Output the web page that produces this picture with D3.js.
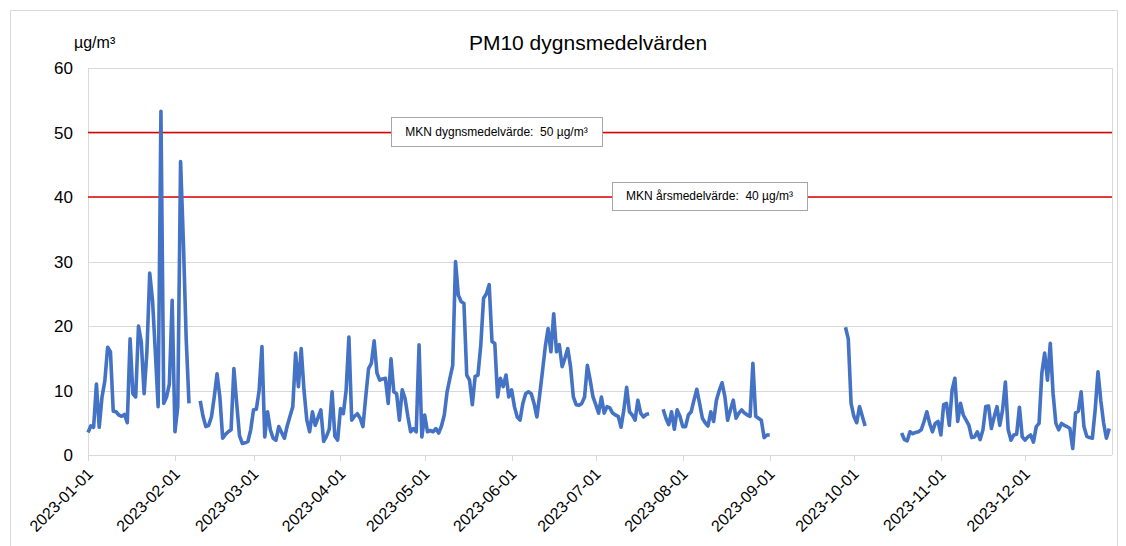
<!DOCTYPE html>
<meta charset="utf-8">
<style>
body { margin: 0; background: #fff; }
text { font-family: Arial, 'Liberation Sans', sans-serif; fill: #000; }
.grid line { stroke: #d9d9d9; stroke-width: 1px; }
.note text { white-space: pre; }
</style>
<body>
<svg width="1126" height="546"></svg>
<script src="https://d3js.org/d3.v7.min.js"></script>
<script>

// daily PM10 values (µg/m³), one array per month, null = missing day
var jan = [3.5, 4.5, 4.3, 11.0, 4.3, 9.0, 11.5, 16.7, 16.0, 6.8, 6.7, 6.2, 6.0, 6.3, 5.0, 18.0, 9.5, 9.0, 20.0, 17.5, 9.5, 16.0, 28.2, 24.0, 16.0, 7.5, 53.3, 8.0, 9.0, 11.0, 24.0];
var feb = [3.6, 7.5, 45.5, 33.0, 18.0, 8.0, null, null, null, 8.4, 6.0, 4.4, 4.6, 5.9, 9.0, 12.6, 9.0, 2.6, 3.2, 3.6, 3.9, 13.4, 8.0, 3.0, 1.8, 1.9, 2.1, 3.9];
var mar = [7.0, 7.1, 10.0, 16.8, 2.8, 6.7, 3.9, 2.6, 2.3, 4.4, 3.5, 2.6, 4.5, 6.0, 7.5, 15.8, 10.6, 16.5, 10.0, 5.4, 3.6, 6.7, 4.6, 5.8, 7.0, 2.1, 2.9, 4.0, 9.8, 2.9, 2.3];
var apr = [7.2, 6.4, 10.0, 18.3, 5.4, 6.0, 6.4, 5.7, 4.4, 9.0, 13.4, 14.2, 17.7, 12.7, 11.6, 11.8, 11.9, 8.0, 14.9, 9.8, 9.5, 5.4, 10.1, 8.8, 6.0, 3.6, 4.1, 3.6, 17.1, 2.8];
var may = [6.2, 3.6, 3.8, 3.6, 4.1, 3.4, 4.5, 6.2, 9.8, 11.9, 13.9, 30.0, 24.8, 23.8, 23.5, 12.4, 11.6, 7.8, 12.2, 12.4, 17.0, 24.3, 25.0, 26.4, 17.6, 17.3, 9.0, 11.9, 10.6, 12.4, 9.0];
var jun = [10.1, 7.5, 5.9, 5.4, 8.0, 9.5, 9.8, 9.5, 8.0, 5.9, 9.3, 13.0, 16.8, 19.6, 16.0, 21.9, 16.0, 17.1, 13.7, 15.0, 16.5, 13.7, 9.0, 7.8, 7.7, 8.0, 9.0, 13.9, 11.6, 9.0];
var jul = [7.8, 6.5, 9.0, 6.5, 7.5, 7.3, 6.5, 6.2, 6.0, 4.3, 7.0, 10.5, 6.7, 6.2, 5.4, 8.5, 6.5, 5.9, 6.3, 6.4, null, null, null, null, 7.1, 5.7, 4.7, 6.7, 4.0, 7.0, 6.0];
var aug = [4.4, 4.4, 6.2, 6.7, 8.5, 10.2, 8.0, 5.7, 5.0, 4.5, 6.7, 5.2, 8.5, 10.0, 11.2, 9.1, 5.4, 7.0, 8.5, 5.7, 6.5, 7.0, 6.5, 6.2, 6.0, 14.2, 6.0, 5.7, 5.4, 2.7, 3.1];
var sep = [3.1, null, null, null, null, null, null, null, null, null, null, null, null, null, null, null, null, null, null, null, null, null, null, null, null, null, null, 19.8, 18.0, 8.0];
var oct = [6.0, 5.0, 7.5, 6.0, 4.5, null, null, null, null, null, null, null, null, null, null, null, null, 3.4, 2.4, 2.2, 3.6, 3.3, 3.5, 3.6, 3.9, 5.2, 6.7, 4.9, 3.6, 4.9, 5.2];
var nov = [3.1, 7.8, 8.0, 4.6, 10.1, 11.9, 5.2, 8.0, 6.2, 5.4, 4.6, 2.7, 2.8, 3.6, 2.4, 3.9, 7.5, 7.6, 4.1, 5.9, 7.5, 4.6, 7.0, 11.3, 3.9, 2.3, 3.1, 3.2, 7.4, 2.8];
var dec = [2.3, 2.8, 3.1, 2.0, 4.4, 4.9, 12.7, 15.8, 11.6, 17.3, 9.5, 4.9, 3.9, 4.9, 4.6, 4.4, 4.1, 1.0, 6.5, 6.8, 9.8, 4.4, 2.9, 2.7, 2.6, 7.0, 12.9, 8.5, 5.0, 2.6, 4.1];

var yTicks = [0, 10, 20, 30, 40, 50, 60];
var limits = [
  {value: 50, label: "MKN dygnsmedelvärde:  50 µg/m³"},
  {value: 40, label: "MKN årsmedelvärde:  40 µg/m³"}
];

var svg = d3.select("svg"),
    margin = {left: 88, right: 1112, top: 68, bottom: 455};

var start = new Date(2023, 0, 1);
var data = [].concat(jan, feb, mar, apr, may, jun, jul, aug, sep, oct, nov, dec)
  .map(function(v, i) { return {date: d3.timeDay.offset(start, i), v: v}; });

var x = d3.scaleTime()
    .domain([start, new Date(2024, 0, 1)])
    .range([margin.left, margin.right]);

var y = d3.scaleLinear()
    .domain([0, 60])
    .range([margin.bottom, margin.top]);

// outer frame
svg.append("rect")
    .attr("x", 10.5).attr("y", 10.5)
    .attr("width", 1107).attr("height", 545)
    .attr("fill", "none").attr("stroke", "#d9d9d9");

// horizontal gridlines
svg.append("g").attr("class", "grid")
  .selectAll("line")
  .data(yTicks)
  .enter().append("line")
    .attr("x1", margin.left).attr("x2", margin.right)
    .attr("y1", d => Math.round(y(d)) + 0.5)
    .attr("y2", d => Math.round(y(d)) + 0.5);

// plot frame (left, right)
svg.append("g").attr("class", "grid")
  .selectAll("line")
  .data([margin.left, margin.right])
  .enter().append("line")
    .attr("x1", d => d + 0.5).attr("x2", d => d + 0.5)
    .attr("y1", margin.top).attr("y2", margin.bottom);

// y labels
svg.append("g")
  .selectAll("text")
  .data(yTicks)
  .enter().append("text")
    .attr("x", 73)
    .attr("y", d => y(d))
    .attr("dy", "0.36em")
    .attr("text-anchor", "end")
    .attr("font-size", 17)
    .text(d => d);

// x ticks and labels
var months = d3.timeMonth.range(start, new Date(2024, 0, 1));
var xg = svg.append("g");
xg.selectAll("line")
  .data(months)
  .enter().append("line")
    .attr("x1", d => Math.round(x(d)) + 0.5)
    .attr("x2", d => Math.round(x(d)) + 0.5)
    .attr("y1", margin.bottom)
    .attr("y2", margin.bottom + 6)
    .attr("stroke", "#d9d9d9");

var fmt = d3.timeFormat("%Y-%m-%d");
xg.selectAll("text")
  .data(months)
  .enter().append("text")
    .attr("transform", d => "translate(" + (x(d) + 6) + "," + (margin.bottom + 20) + ") rotate(-45)")
    .attr("text-anchor", "end")
    .attr("font-size", 16)
    .text(d => fmt(d));

// limit lines
svg.append("g")
  .selectAll("line")
  .data(limits)
  .enter().append("line")
    .attr("x1", margin.left).attr("x2", margin.right)
    .attr("y1", d => y(d.value)).attr("y2", d => y(d.value))
    .attr("stroke", "#e00000")
    .attr("stroke-width", 1.5);

// data line
var line = d3.line()
    .defined(d => d.v != null)
    .x(d => x(d.date))
    .y(d => y(d.v));

svg.append("path")
    .datum(data)
    .attr("d", line)
    .attr("fill", "none")
    .attr("stroke", "#4472c4")
    .attr("stroke-width", 3.6)
    .attr("stroke-linejoin", "round");

// limit labels
var boxes = [
  {x: 391, y: 117, w: 211, h: 29},
  {x: 612, y: 182, w: 195, h: 28}
];
var note = svg.append("g").attr("class", "note")
  .selectAll("g")
  .data(limits)
  .enter().append("g");

note.append("rect")
    .attr("x", (d, i) => boxes[i].x + 0.5)
    .attr("y", (d, i) => boxes[i].y + 0.5)
    .attr("width", (d, i) => boxes[i].w)
    .attr("height", (d, i) => boxes[i].h)
    .attr("fill", "#fff")
    .attr("stroke", "#a6a6a6");

note.append("text")
    .attr("x", (d, i) => boxes[i].x + boxes[i].w / 2)
    .attr("y", (d, i) => boxes[i].y + boxes[i].h / 2)
    .attr("dy", "0.35em")
    .attr("text-anchor", "middle")
    .attr("font-size", 12)
    .text(d => d.label);

// title and unit
svg.append("text")
    .attr("x", 588).attr("y", 50)
    .attr("text-anchor", "middle")
    .attr("font-size", 21)
    .text("PM10 dygnsmedelvärden");

svg.append("text")
    .attr("x", 74).attr("y", 48)
    .attr("font-size", 16)
    .text("µg/m³");

</script>
